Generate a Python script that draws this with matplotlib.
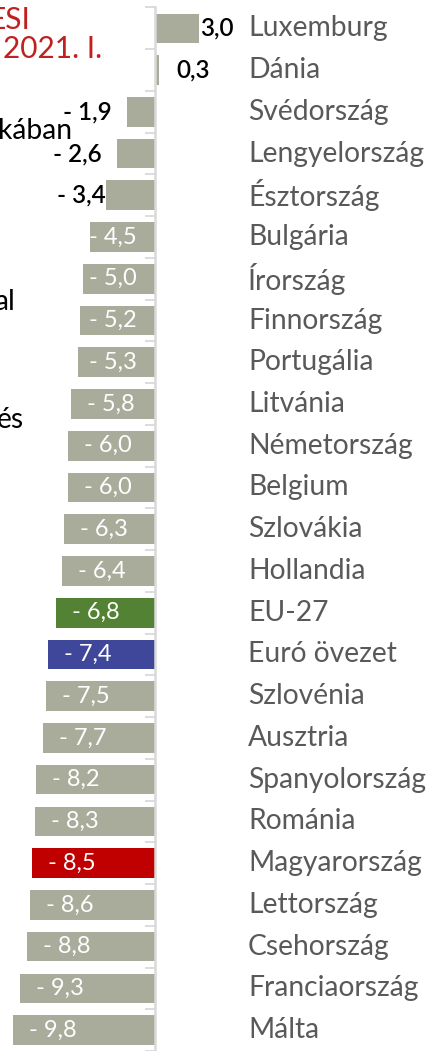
import matplotlib
matplotlib.use("Agg")
import matplotlib.pyplot as plt

countries = ["Luxemburg", "Dánia", "Svédország", "Lengyelország", "Észtország",
             "Bulgária", "Írország", "Finnország", "Portugália", "Litvánia",
             "Németország", "Belgium", "Szlovákia", "Hollandia", "EU-27",
             "Euró övezet", "Szlovénia", "Ausztria", "Spanyolország", "Románia",
             "Magyarország", "Lettország", "Csehország", "Franciaország", "Málta"]
values = [3.0, 0.3, -1.9, -2.6, -3.4, -4.5, -5.0, -5.2, -5.3, -5.8,
          -6.0, -6.0, -6.3, -6.4, -6.8, -7.4, -7.5, -7.7, -8.2, -8.3,
          -8.5, -8.6, -8.8, -9.3, -9.8]
side_texts = ["ESI", "2021. I.", "kában", "al", "és"]

GRAY = "#A9AC9B"
special = {"EU-27": "#548235", "Euró övezet": "#3F479B", "Magyarország": "#C00000"}
colors = [special.get(c, GRAY) for c in countries]

FONT = ["Lato", "DejaVu Sans"]
plt.rcParams["font.family"] = FONT

W, H = 433, 1051
fig = plt.figure(figsize=(W / 100, H / 100), dpi=100)
ax = fig.add_axes([0, 0, 1, 1])

pxu = 14.5      # pixels per unit
x0 = 155        # pixel of zero
row = 42.0
y0 = 28.5
ax.set_xlim(-x0 / pxu, (W - x0) / pxu)
ax.set_ylim((H - y0) / row, -y0 / row)

ys = list(range(len(countries)))
ax.barh(ys, values, height=0.71, color=colors, zorder=2)

def fmt(v):
    s = f"{abs(v):.1f}".replace(".", ",")
    return s if v >= 0 else "- " + s

for y, v, c in zip(ys, values, countries):
    if v >= 0:
        ax.text(max(v + 0.1, 1.45), y, fmt(v), ha="left", va="center",
                fontsize=17.5, color="black", fontweight="semibold")
    elif v > -4.0:
        ax.text(v + (0.02 if v < -3 else -1.05), y, fmt(v), ha="right", va="center",
                fontsize=17.5, color="black", fontweight="semibold")
    else:
        ax.text(min(v + 1.1, -4.55), y, fmt(v), ha="left", va="center",
                fontsize=17, color="white")
    ax.text((248 - x0) / pxu, y, c, ha="left", va="center", fontsize=20.3,
            color="#595959")

# spine at zero
for s in ["top", "right", "bottom"]:
    ax.spines[s].set_visible(False)
ax.spines["left"].set_position(("data", 0))
ax.spines["left"].set_color("#D9D9D9")
ax.spines["left"].set_linewidth(1.8)
ax.spines["left"].set_bounds(-0.5, len(countries))
ax.spines["left"].set_zorder(3)
ax.set_xticks([])
ax.set_yticks([i - 0.5 for i in range(len(countries) + 1)])
ax.set_yticklabels([])
ax.tick_params(axis="y", direction="out", length=7, width=1.3, color="#D9D9D9")

# partially visible side texts (cut off at left)
red = "#C0211F"
fig.text(30 / W, 1 - 20 / H, side_texts[0], ha="right", va="center", fontsize=21.5, color=red)
fig.text(102 / W, 1 - 49 / H, side_texts[1], ha="right", va="center", fontsize=21.5, color=red)
fig.text(72 / W, 1 - 131 / H, side_texts[2], ha="right", va="center", fontsize=20.3, color="black")
fig.text(15 / W, 1 - 302 / H, side_texts[3], ha="right", va="center", fontsize=20.3, color="black")
fig.text(24 / W, 1 - 420 / H, side_texts[4], ha="right", va="center", fontsize=20.3, color="black")

fig.savefig("out.png", dpi=100)
